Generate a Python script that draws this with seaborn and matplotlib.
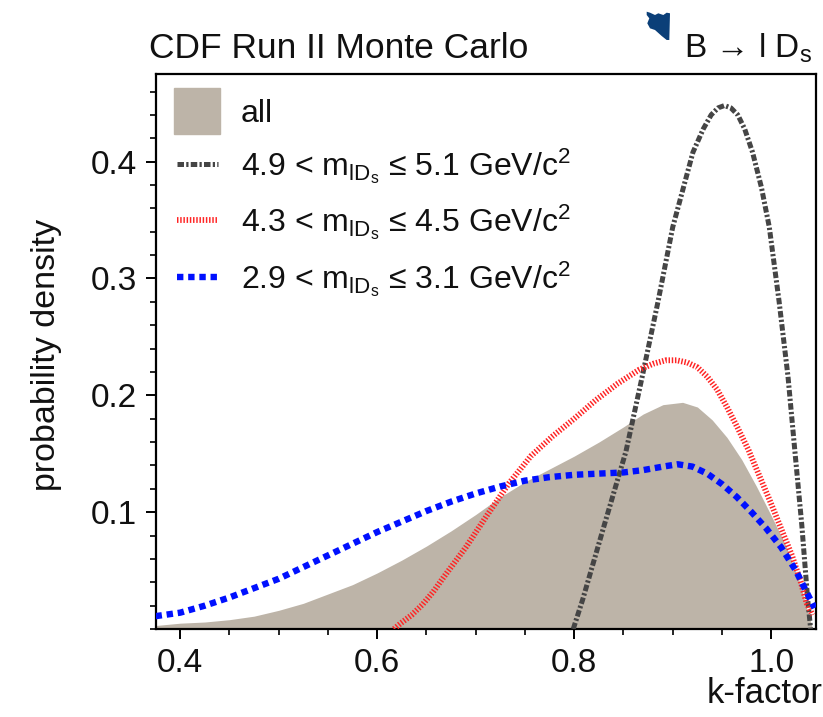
import numpy as np
import seaborn as sns
import matplotlib.pyplot as plt
from matplotlib.lines import Line2D
from matplotlib.patches import Polygon
from matplotlib.ticker import MultipleLocator, FixedLocator

sns.set_theme(style="white")
plt.rcParams['font.family'] = ['Liberation Sans', 'DejaVu Sans']
plt.rcParams['mathtext.fontset'] = 'custom'
plt.rcParams['mathtext.rm'] = 'Liberation Sans'
plt.rcParams['mathtext.it'] = 'Liberation Sans:italic'
plt.rcParams['mathtext.bf'] = 'Liberation Sans:bold'

# k-factor distributions (probability density)
all_k = [0.375, 0.40, 0.425, 0.45, 0.475, 0.50, 0.525, 0.55, 0.575, 0.60, 0.625,
         0.65, 0.675, 0.70, 0.725, 0.75, 0.775, 0.80, 0.825, 0.85, 0.87, 0.89,
         0.91, 0.925, 0.94, 0.955, 0.97, 0.985, 1.00, 1.015, 1.028, 1.038, 1.042]
all_pdf = [0.003, 0.005, 0.006, 0.008, 0.011, 0.016, 0.022, 0.030, 0.038, 0.048,
           0.059, 0.071, 0.084, 0.098, 0.113, 0.126, 0.137, 0.148, 0.160, 0.173,
           0.184, 0.192, 0.194, 0.190, 0.179, 0.164, 0.145, 0.122, 0.097, 0.071,
           0.042, 0.012, 0.0]

hi_k = [0.799, 0.8085, 0.8305, 0.8525, 0.869, 0.885, 0.900, 0.9205, 0.931, 0.939,
        0.946, 0.9525, 0.959, 0.966, 0.973, 0.981, 0.990, 0.998, 1.008, 1.017,
        1.024, 1.031, 1.037, 1.040]
hi_pdf = [0.0, 0.025, 0.089, 0.152, 0.216, 0.280, 0.344, 0.408, 0.428, 0.440,
          0.446, 0.448, 0.446, 0.440, 0.428, 0.408, 0.378, 0.344, 0.280, 0.216,
          0.152, 0.089, 0.025, 0.0]

mid_k = [0.617, 0.624, 0.635, 0.646, 0.657, 0.668, 0.690, 0.712, 0.734, 0.756,
         0.778, 0.800, 0.822, 0.844, 0.866, 0.880, 0.893, 0.904, 0.915, 0.925,
         0.935, 0.945, 0.955, 0.966, 0.977, 0.988, 0.999, 1.010, 1.021, 1.030,
         1.036, 1.042]
mid_pdf = [0.0, 0.005, 0.012, 0.021, 0.032, 0.045, 0.070, 0.098, 0.125, 0.148,
           0.165, 0.180, 0.196, 0.210, 0.222, 0.227, 0.230, 0.230, 0.228, 0.224,
           0.216, 0.205, 0.190, 0.172, 0.153, 0.131, 0.109, 0.086, 0.063, 0.040,
           0.022, 0.012]

lo_k = [0.375, 0.40, 0.425, 0.45, 0.475, 0.50, 0.525, 0.55, 0.575, 0.60, 0.625,
        0.65, 0.675, 0.70, 0.725, 0.75, 0.775, 0.80, 0.825, 0.85, 0.87, 0.89,
        0.905, 0.92, 0.935, 0.95, 0.965, 0.98, 0.995, 1.01, 1.025, 1.035, 1.044]
lo_pdf = [0.011, 0.014, 0.020, 0.027, 0.035, 0.043, 0.053, 0.063, 0.073, 0.083,
          0.092, 0.101, 0.109, 0.116, 0.122, 0.127, 0.130, 0.132, 0.133, 0.134,
          0.136, 0.139, 0.141, 0.139, 0.133, 0.124, 0.113, 0.100, 0.086, 0.070,
          0.050, 0.033, 0.018]

labels = ["all",
          r"4.9 < m$_{\mathrm{lD_s}}$ ≤ 5.1 GeV/c$^{\mathrm{2}}$",
          r"4.3 < m$_{\mathrm{lD_s}}$ ≤ 4.5 GeV/c$^{\mathrm{2}}$",
          r"2.9 < m$_{\mathrm{lD_s}}$ ≤ 3.1 GeV/c$^{\mathrm{2}}$"]
x_ticks = [0.4, 0.6, 0.8, 1.0]
x_ticklabels = ["0.4", "0.6", "0.8", "1.0"]
y_ticks = [0.1, 0.2, 0.3, 0.4]
y_ticklabels = ["0.1", "0.2", "0.3", "0.4"]

fill_color = "#bdb4a8"
styles = [
    dict(color="#454545", lw=3.6, ls=(0, (1.3, 0.45, 0.45, 0.45))),
    dict(color="#ff2424", lw=4.2, ls=(0, (0.25, 0.3))),
    dict(color="#0010ff", lw=4.6, ls=(0, (1.0, 0.75))),
]

fig = plt.figure(figsize=(8.23, 7.17), dpi=100)
ax = fig.add_axes([0.189, 0.1227, 0.802, 0.7741])

ax.fill_between(all_k, all_pdf, color=fill_color, lw=0, zorder=1)
for (kx, py), st in zip([(hi_k, hi_pdf), (mid_k, mid_pdf), (lo_k, lo_pdf)], styles):
    sns.lineplot(x=kx, y=py, ax=ax, color=st["color"], linewidth=st["lw"],
                 linestyle=st["ls"], zorder=3, sort=False, estimator=None)

ax.set_xlim(0.375, 1.045)
ax.set_ylim(0.0, 0.475)

ax.xaxis.set_major_locator(FixedLocator(x_ticks))
ax.set_xticklabels(x_ticklabels)
ax.xaxis.set_minor_locator(MultipleLocator(0.05))
ax.yaxis.set_major_locator(FixedLocator(y_ticks))
ax.set_yticklabels(y_ticklabels)
ax.yaxis.set_minor_locator(MultipleLocator(0.02))

ax.tick_params(axis="both", which="major", direction="out", length=7.5, width=1.4,
               labelsize=24, color="black", labelcolor="#111111", pad=6,
               bottom=True, left=True, top=False, right=False)
ax.tick_params(axis="both", which="minor", direction="out", length=4, width=1.2,
               color="black", bottom=True, left=True, top=False, right=False)
for sp in ax.spines.values():
    sp.set_visible(True)
    sp.set_color("black")
    sp.set_linewidth(1.6)

ax.set_xlabel("")
ax.set_ylabel("")
fig.text(0.056, 0.505, "probability density", rotation=90, ha="center", va="center",
         fontsize=24.5, color="#111111")
fig.text(0.999, 0.033, "k-factor", ha="right", va="center", fontsize=25, color="#111111")
fig.text(0.181, 0.933, "CDF Run II Monte Carlo", ha="left", va="center",
         fontsize=25.5, color="#111111")
fig.text(0.987, 0.933, r"B → l D$_{\mathrm{s}}$", ha="right", va="center",
         fontsize=24, color="#111111")

# corner emblem fragment
emblem = Polygon([(646.7, 11.7), (650, 12.7), (655, 15), (658.3, 13.3), (663.3, 15),
                  (666.7, 12.7), (670, 13.3), (669.3, 40), (666.7, 40), (661.7, 36),
                  (655, 30), (650, 28.3), (647.3, 23.3), (649.3, 18.3), (646.7, 15)],
                 closed=True, transform=None, facecolor="#0b3f78", edgecolor="none")
emblem.set_xy([(x, 717 - y) for x, y in emblem.get_xy()])
fig.patches.append(emblem)

handles = [Line2D([], [], marker="s", markersize=33, color=fill_color, linestyle="None")]
for st in styles:
    handles.append(Line2D([], [], color=st["color"], lw=st["lw"], linestyle=st["ls"]))
ax.legend(handles, labels, loc="upper left", bbox_to_anchor=(0.032, 0.955),
          frameon=False, fontsize=23, handlelength=1.3, handletextpad=0.7,
          labelspacing=0.52, borderpad=0, borderaxespad=0, numpoints=1,
          labelcolor="#111111")

fig.savefig("out.png", dpi=100, facecolor="white")
